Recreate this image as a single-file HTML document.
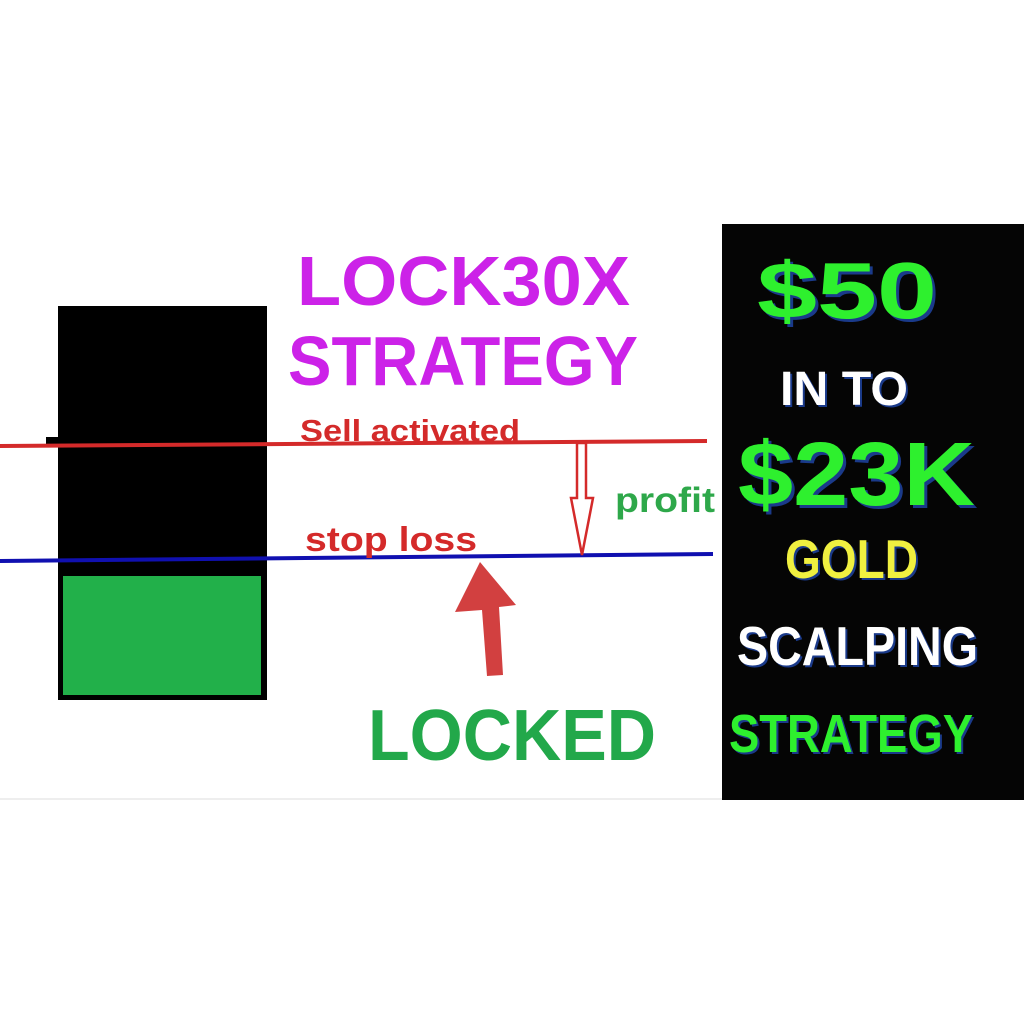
<!DOCTYPE html>
<html><head><style>html,body{margin:0;padding:0;background:#fff}svg{display:block}</style></head>
<body>
<svg width="1024" height="1024" viewBox="0 0 1024 1024" xmlns="http://www.w3.org/2000/svg" font-family="Liberation Sans, sans-serif" font-weight="bold">
<rect x="0" y="0" width="1024" height="1024" fill="#fff"/>
<rect x="0" y="798" width="722" height="2" fill="#eee"/>
<rect x="58" y="306" width="209" height="394" fill="#000"/>
<rect x="46" y="437" width="14" height="8" fill="#000"/>
<rect x="63" y="576" width="198" height="119" fill="#22b04a"/>
<line x1="0" y1="446" x2="707" y2="441" stroke="#d42a2a" stroke-width="4"/>
<line x1="0" y1="561" x2="713" y2="554" stroke="#1010b0" stroke-width="4"/>
<path d="M577 443 L586 443 L586 498 L593 498 L582 555 L571 498 L577 498 Z" fill="#fff" stroke="#d42a2a" stroke-width="2.5"/>
<path d="M480 562 L516 605 L499 607 L503 675 L487 676 L482 610 L455 612 Z" fill="#d24040"/>
<text x="297" y="305" font-size="70" fill="#cc22e8" textLength="333" lengthAdjust="spacingAndGlyphs">LOCK30X</text>
<text x="288" y="385" font-size="70" fill="#cc22e8" textLength="350" lengthAdjust="spacingAndGlyphs">STRATEGY</text>
<text x="300" y="441" font-size="31" fill="#d42a2a" textLength="220" lengthAdjust="spacingAndGlyphs">Sell activated</text>
<text x="305" y="551" font-size="34" fill="#d42a2a" textLength="172" lengthAdjust="spacingAndGlyphs">stop loss</text>
<text x="615" y="512" font-size="35" fill="#2ea84a" textLength="100" lengthAdjust="spacingAndGlyphs">profit</text>
<text x="368" y="760" font-size="72" fill="#22a84a" textLength="288" lengthAdjust="spacingAndGlyphs">LOCKED</text>
<rect x="722" y="224" width="302" height="576" fill="#050505"/>
<g>
<text x="760" y="321" font-size="80" fill="#1a3a8a" textLength="180" lengthAdjust="spacingAndGlyphs">$50</text>
<text x="757" y="318" font-size="80" fill="#2ef02e" textLength="180" lengthAdjust="spacingAndGlyphs">$50</text>
<text x="782" y="407" font-size="48" fill="#1a3a8a" textLength="128" lengthAdjust="spacingAndGlyphs">IN TO</text>
<text x="780" y="405" font-size="48" fill="#fff" textLength="128" lengthAdjust="spacingAndGlyphs">IN TO</text>
<text x="741" y="508" font-size="90" fill="#1a3a8a" textLength="237" lengthAdjust="spacingAndGlyphs">$23K</text>
<text x="738" y="505" font-size="90" fill="#2ef02e" textLength="237" lengthAdjust="spacingAndGlyphs">$23K</text>
<text x="787" y="580" font-size="55" fill="#1a3a8a" textLength="133" lengthAdjust="spacingAndGlyphs">GOLD</text>
<text x="785" y="578" font-size="55" fill="#f0f040" textLength="133" lengthAdjust="spacingAndGlyphs">GOLD</text>
<text x="739" y="667" font-size="55" fill="#1a3a8a" textLength="241" lengthAdjust="spacingAndGlyphs">SCALPING</text>
<text x="737" y="665" font-size="55" fill="#fff" textLength="241" lengthAdjust="spacingAndGlyphs">SCALPING</text>
<text x="731" y="754" font-size="54" fill="#1a3a8a" textLength="244" lengthAdjust="spacingAndGlyphs">STRATEGY</text>
<text x="729" y="752" font-size="54" fill="#2ef02e" textLength="244" lengthAdjust="spacingAndGlyphs">STRATEGY</text>
</g>
</svg>
</body></html>
